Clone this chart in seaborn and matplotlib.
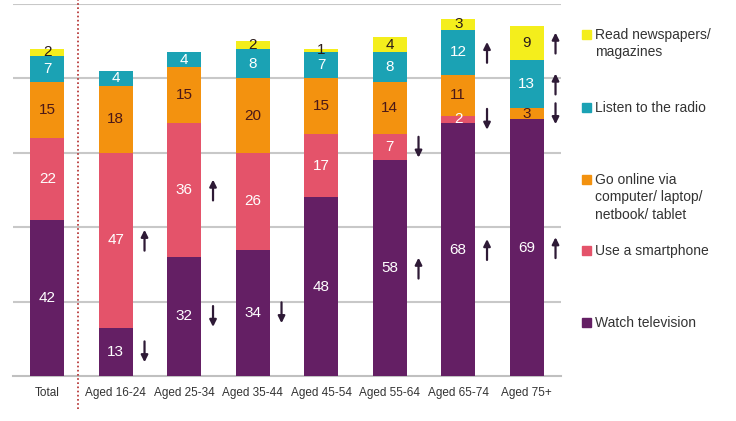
import numpy as np
import pandas as pd
import matplotlib
matplotlib.use("Agg")
import matplotlib.pyplot as plt
import seaborn as sns
from matplotlib.patches import Rectangle

categories = ["Total", "Aged 16-24", "Aged 25-34", "Aged 35-44",
              "Aged 45-54", "Aged 55-64", "Aged 65-74", "Aged 75+"]
tv = [42, 13, 32, 34, 48, 58, 68, 69]
smartphone = [22, 47, 36, 26, 17, 7, 2, 0]
online = [15, 18, 15, 20, 15, 14, 11, 3]
radio = [7, 4, 4, 8, 7, 8, 12, 13]
newspapers = [2, 0, 0, 2, 1, 4, 3, 9]

series_keys = ["tv", "smartphone", "online", "radio", "newspapers"]
series_values = [tv, smartphone, online, radio, newspapers]
series_labels = ["Watch television", "Use a smartphone",
                 "Go online via\ncomputer/ laptop/\nnetbook/ tablet",
                 "Listen to the radio", "Read newspapers/\nmagazines"]
colors = ["#641F64", "#E4536A", "#F3920F", "#1BA2B4", "#F4EE1C"]
label_colors = ["white", "white", "#4a1818", "white", "#2a1a1a"]

# significance arrows: (category, series, direction)
arrows = [
    ("Aged 16-24", "smartphone", "up"), ("Aged 16-24", "tv", "down"),
    ("Aged 25-34", "smartphone", "up"), ("Aged 25-34", "tv", "down"),
    ("Aged 35-44", "tv", "down"),
    ("Aged 55-64", "smartphone", "down"), ("Aged 55-64", "tv", "up"),
    ("Aged 65-74", "radio", "up"), ("Aged 65-74", "smartphone", "down"),
    ("Aged 65-74", "tv", "up"),
    ("Aged 75+", "newspapers", "up"), ("Aged 75+", "radio", "up"),
    ("Aged 75+", "online", "down"), ("Aged 75+", "tv", "up"),
]

sns.set_style("white")
plt.rcParams['font.family'] = ['Liberation Sans', 'DejaVu Sans']

fig = plt.figure(figsize=(7.36, 4.21), dpi=100)
ax = fig.add_axes([13 / 736, 45 / 421, 548 / 736, 372 / 421])

vals = np.array(series_values, dtype=float)
cum = np.cumsum(vals, axis=0)
bottoms = cum - vals

# draw cumulative bars, tallest first
for i in range(len(series_keys) - 1, -1, -1):
    df = pd.DataFrame({"cat": categories, "val": cum[i]})
    sns.barplot(data=df, x="cat", y="val", order=categories, color=colors[i],
                saturation=1, width=0.5, errorbar=None, ax=ax, zorder=3,
                linewidth=0, edgecolor="none")

# segment labels
for i in range(len(series_keys)):
    for j in range(len(categories)):
        v = vals[i, j]
        if v > 0:
            ax.text(j, bottoms[i, j] + v / 2, f"{int(v)}", ha="center", va="center",
                    fontsize=11, color=label_colors[i], zorder=5)

# arrows
for cat, key, d in arrows:
    j = categories.index(cat)
    i = series_keys.index(key)
    mid = bottoms[i, j] + vals[i, j] / 2
    x = j + 0.42
    if d == "up":
        start, end = mid - 2.8, mid + 2.8
    else:
        start, end = mid + 2.8, mid - 2.8
    ax.annotate("", xy=(x, end), xytext=(x, start),
                arrowprops=dict(arrowstyle="-|>", color="#2e1a36", lw=1.6,
                                mutation_scale=10, shrinkA=0, shrinkB=0),
                zorder=6)

ax.set_xlim(-0.5, len(categories) - 0.5)
ax.set_ylim(0, 100)
ax.set_yticks([20, 40, 60, 80, 100])
ax.set_yticklabels([])
ax.tick_params(axis="y", length=0)
ax.yaxis.grid(True, color="#c8c8c8", lw=1.5, zorder=0)
ax.set_axisbelow(True)
for s in ["left", "right", "top"]:
    ax.spines[s].set_visible(False)
ax.spines["bottom"].set_color("#c0c0c0")
ax.spines["bottom"].set_linewidth(1.5)
ax.set_xlabel("")
ax.set_ylabel("")
ax.set_xticks(range(len(categories)))
ax.set_xticklabels(categories, fontsize=8.5, color="#333333")
ax.set_xticks(np.arange(-0.5, len(categories)), minor=True)
ax.tick_params(axis="x", which="major", length=0, pad=8)
ax.tick_params(axis="x", which="minor", length=5, width=1.2, color="#c0c0c0")

# red dotted separator
ax.plot([0.45, 0.45], [-9, 102], ls=(0, (1, 1.5)), color="#b22a2a", lw=1.2,
        clip_on=False, zorder=4)

# legend
legend_y = [34, 107, 179, 250, 322]  # pixel rows from top, newspapers first
order = [4, 3, 2, 1, 0]
for yy, i in zip(legend_y, order):
    fig.patches.append(Rectangle((582 / 736, 1 - (yy + 4.5) / 421), 9 / 736, 9 / 421,
                                 transform=fig.transFigure, color=colors[i],
                                 figure=fig))
    fig.text(595 / 736, 1 - (yy - 6) / 421, series_labels[i], ha="left",
             va="top", fontsize=10, color="#333333", linespacing=1.3,
             multialignment="left")

fig.savefig("out.png", dpi=100)
